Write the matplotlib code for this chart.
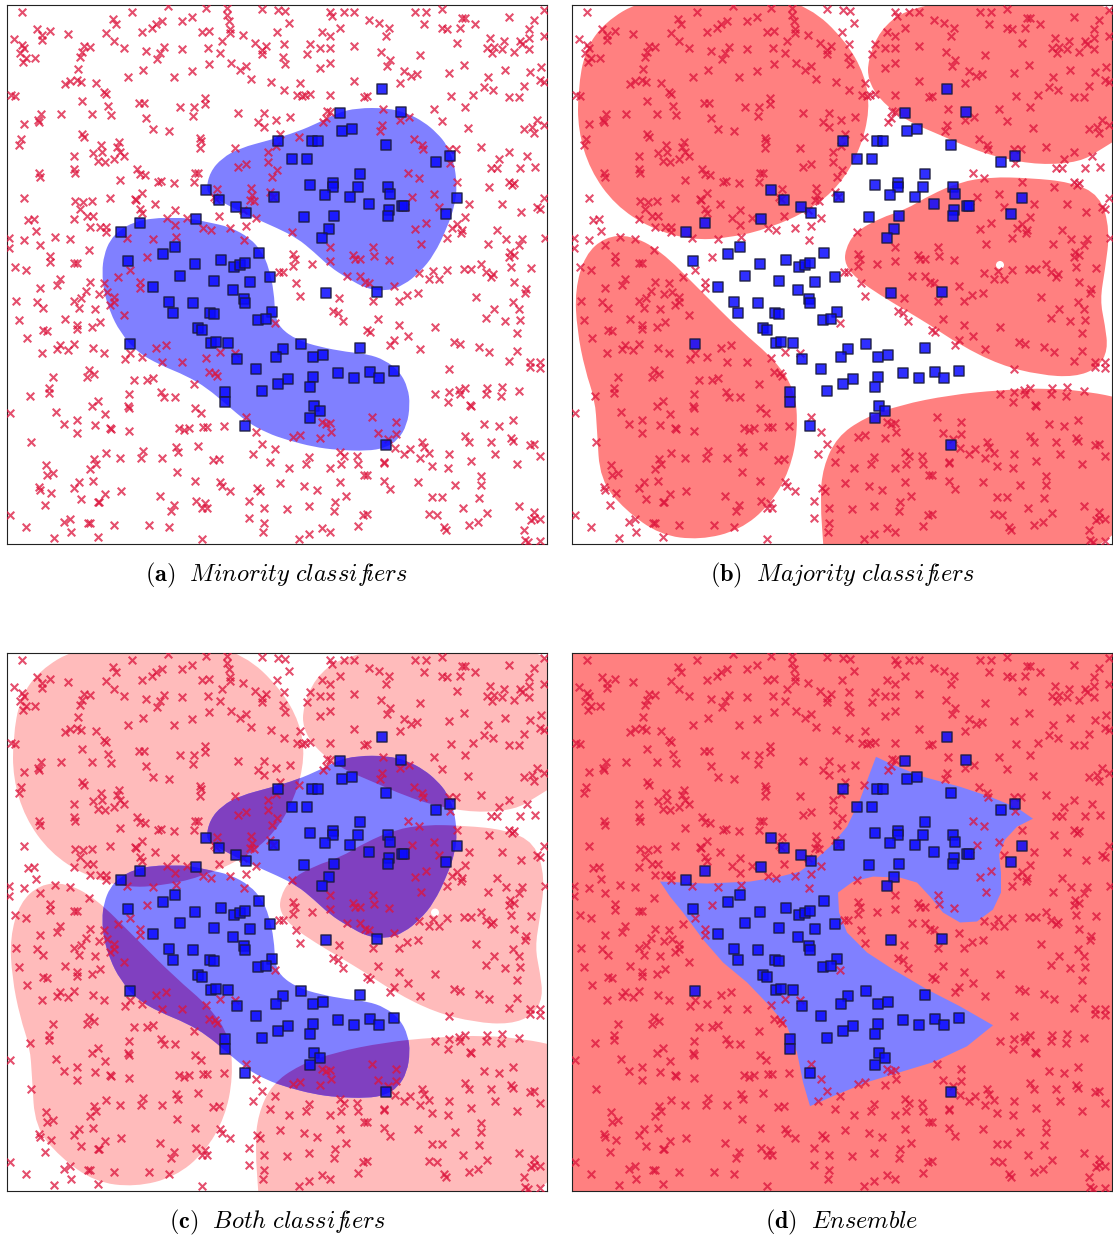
import numpy as np
import matplotlib
matplotlib.use("Agg")
import matplotlib.pyplot as plt
from matplotlib.path import Path
from matplotlib.patches import PathPatch, Polygon, Circle

plt.rcParams['mathtext.fontset'] = 'cm'

# ---------------------------------------------------------------- data
# feature coordinates of the two classes (x1 to the right, x2 downward)
minority_pts = [
    (375,84),(333,108),(394,107),(335,126),(345,124),(271,136),(305,136),(311,136),(379,140),(285,154),
    (300,154),(443,151),(429,157),(353,169),(303,180),(326,178),(326,182),(351,182),(381,182),(383,189),
    (318,190),(343,192),(362,199),(395,201),(397,201),(382,205),(381,211),(450,193),(439,209),(327,211),
    (297,212),(322,224),(315,233),(199,185),(212,195),(229,202),(239,208),(189,214),(133,218),(114,227),
    (168,242),(156,249),(252,248),(214,255),(188,259),(121,256),(227,262),(233,260),(238,258),(263,272),
    (173,271),(146,282),(207,276),(243,277),(226,285),(237,294),(238,298),(319,288),(370,287),(162,297),
    (186,298),(166,308),(203,308),(207,309),(265,307),(251,315),(259,314),(191,323),(195,325),(123,339),
    (204,338),(209,337),(221,338),(294,339),(276,344),(269,352),(306,352),(316,350),(353,343),(230,354),
    (249,364),(331,368),(363,367),(372,373),(387,366),(347,373),(306,372),(281,374),(271,379),(303,382),
    (255,386),(218,387),(218,397),(307,401),(313,406),(303,413),(238,421),(379,440),(267,192),
]

majority_pts = [
    # upper left
    (15,7),(125,7),(161,1),(106,14),(109,19),(175,16),(30,24),(35,30),(35,35),(43,26),(61,29),(99,28),
    (107,36),(135,27),(145,23),(149,19),(155,16),(7,34),(15,40),(17,43),(13,48),(19,53),(16,57),(28,53),
    (77,41),(83,42),(75,47),(73,52),(117,43),(139,46),(157,42),(153,48),(150,54),(175,44),(71,64),(136,65),
    (121,72),(167,72),(58,79),(63,76),(70,75),(74,77),(89,78),(97,87),(99,89),(4,90),(8,91),(75,96),
    (101,101),(132,98),(137,98),(173,102),(34,109),(31,115),(32,117),(54,109),(85,109),(104,110),(139,113),
    (17,119),(146,124),(162,126),(75,129),(77,132),(14,134),(12,140),(112,137),(110,142),(113,147),(94,140),
    (95,147),(86,148),(91,156),(98,157),(107,154),(117,151),(67,151),(67,164),(68,168),(32,168),(33,172),
    (130,164),(133,169),(138,170),(113,175),(151,177),(154,176),(167,178),
    # upper middle
    (199,3),(220,3),(220,10),(222,16),(223,24),(223,28),(185,12),(195,27),(202,26),(255,4),(271,5),(278,6),
    (282,18),(270,27),(236,30),(215,36),(201,43),(213,48),(248,38),(255,45),(259,41),(255,49),(277,39),
    (276,52),(278,59),(202,59),(185,66),(224,58),(233,65),(239,61),(244,74),(264,77),(277,85),(293,78),
    (290,90),(295,91),(298,90),(303,89),(323,7),(325,11),(337,7),(347,7),(333,23),(315,27),(323,31),
    (303,39),(313,43),(323,43),(300,49),(323,58),(313,63),(347,41),(347,76),(323,90),(357,92),(198,93),
    (198,99),(187,102),(186,111),(231,108),(257,108),(251,117),(257,122),(269,115),(283,112),(320,106),
    (323,107),(316,117),(319,113),(193,133),(194,136),(193,143),(228,143),(273,129),(292,132),(261,147),
    (269,141),(261,157),(231,162),(239,159),(270,165),(265,172),(188,168),(191,168),(187,177),
    # upper right
    (408,7),(419,7),(435,4),(362,15),(372,18),(382,23),(379,31),(417,19),(435,23),(440,24),(455,13),
    (458,13),(453,23),(468,19),(502,12),(527,15),(537,5),(537,31),(522,24),(522,33),(483,33),(480,43),
    (485,48),(487,42),(497,36),(495,44),(513,36),(515,39),(507,47),(522,44),(450,38),(374,47),(383,55),
    (380,61),(413,50),(457,60),(534,62),(397,66),(404,71),(410,69),(393,78),(442,68),(481,72),(498,65),
    (523,67),(533,75),(537,77),(477,82),(486,85),(517,81),(360,91),(444,91),(466,90),(502,92),(512,92),
    (458,102),(427,104),(435,116),(376,104),(393,115),(402,112),(375,120),(373,126),(530,115),(537,120),
    (517,124),(525,122),(527,128),(461,123),(407,134),(415,140),(416,144),(442,144),(449,144),(474,142),
    (502,147),(492,154),(484,163),(490,163),(520,151),(528,162),(513,163),(401,168),(412,173),(443,158),
    (450,177),(502,177),(507,178),
    # middle left
    (17,193),(68,196),(76,197),(85,196),(73,204),(80,211),(86,211),(67,214),(103,193),(128,194),(129,195),
    (135,188),(133,204),(135,208),(148,199),(168,205),(160,213),(168,220),(21,215),(27,214),(29,226),
    (83,222),(93,222),(99,222),(99,227),(48,232),(2,233),(2,243),(17,235),(63,234),(33,240),(82,245),
    (120,233),(146,234),(169,232),(43,251),(43,257),(67,258),(70,258),(8,262),(19,265),(140,252),(123,265),
    (53,274),(50,280),(83,277),(33,283),(97,278),(111,272),(100,287),(107,292),(107,297),(103,300),
    (133,277),(133,283),(79,286),(74,293),(67,296),(92,289),(9,296),(30,297),(36,303),(72,303),(88,304),
    (117,310),(12,315),(58,314),(93,317),(85,322),(70,320),(70,324),(36,325),(40,326),(20,333),(53,340),
    (50,344),(61,345),(67,339),(86,343),(35,348),(97,348),(118,354),(123,348),(135,352),(149,343),
    (159,340),(155,357),(175,357),
    # centre
    (210,184),(207,192),(209,194),(244,183),(245,190),(247,196),(243,195),(263,187),(266,192),(236,205),
    (249,213),(239,221),(223,223),(212,211),(196,223),(204,225),(180,213),(237,235),(285,227),(323,242),
    (323,256),(286,249),(288,254),(286,261),(305,259),(272,267),(276,267),(346,250),(348,254),(353,254),
    (340,271),(353,271),(358,277),(289,278),(293,291),(332,293),(326,306),(331,308),(336,316),(268,318),
    (360,325),(213,347),(228,348),(199,353),
    # middle right
    (405,192),(398,202),(427,189),(432,202),(462,199),(482,182),(495,199),(505,180),(514,207),(530,202),
    (533,204),(537,193),(458,212),(450,219),(445,223),(455,225),(454,228),(440,233),(419,218),(408,224),
    (414,239),(366,242),(367,251),(382,255),(490,225),(481,239),(499,234),(515,234),(512,240),(503,247),
    (502,252),(507,250),(504,262),(538,233),(412,268),(426,266),(422,274),(432,274),(440,265),(457,264),
    (464,264),(474,259),(479,267),(486,269),(484,272),(524,263),(507,277),(362,278),(387,281),(411,288),
    (400,290),(392,296),(366,296),(469,292),(519,284),(518,288),(506,297),(512,304),(487,304),(479,313),
    (498,316),(513,315),(371,314),(392,320),(401,331),(363,327),(428,322),(510,328),(387,335),(383,340),
    (413,344),(447,337),(453,339),(472,342),(482,347),(510,346),(502,356),(523,357),(533,357),
    # lower left
    (82,365),(80,372),(87,369),(46,372),(23,391),(42,383),(42,388),(127,375),(140,375),(146,373),(154,387),
    (157,392),(168,392),(122,389),(85,401),(91,396),(98,409),(121,401),(122,403),(49,407),(3,408),(70,415),
    (57,419),(70,428),(88,420),(103,423),(104,424),(122,426),(172,423),(177,425),(24,437),(169,442),
    (171,447),(99,448),(113,453),(136,446),(134,453),(155,453),(87,454),(89,459),(83,464),(39,460),(40,470),
    (46,468),(170,467),(86,476),(72,477),(67,483),(32,482),(33,485),(44,488),(114,486),(98,489),(92,497),
    (91,497),(74,494),(38,500),(153,491),(167,500),(164,506),(3,510),(57,517),(63,514),(81,518),(83,518),
    (107,520),(142,520),(162,522),(19,522),(64,527),(47,533),(91,532),
    # lower middle
    (202,367),(208,368),(210,371),(187,379),(188,403),(194,408),(182,423),(196,422),(200,422),(217,421),
    (239,412),(249,427),(286,432),(293,430),(313,433),(315,417),(319,419),(323,418),(324,427),(191,441),
    (255,439),(268,444),(246,449),(263,457),(206,455),(212,454),(302,452),(299,459),(282,463),(333,447),
    (337,451),(334,459),(350,451),(351,459),(323,463),(357,470),(188,476),(213,477),(215,481),(223,486),
    (250,483),(253,486),(273,478),(297,481),(310,485),(333,477),(339,491),(189,496),(195,503),(198,498),
    (200,503),(242,496),(257,503),(280,504),(302,501),(328,497),(327,506),(356,510),(242,513),(257,518),
    (256,527),(351,521),(315,523),(323,527),(302,529),(292,534),(195,534),
    # lower right
    (442,364),(523,362),(533,363),(428,389),(442,387),(441,397),(452,385),(453,389),(458,383),(463,400),
    (464,401),(480,383),(479,389),(495,382),(494,391),(512,386),(365,412),(389,417),(371,428),(389,429),
    (381,434),(477,419),(492,421),(506,415),(458,431),(462,437),(484,437),(504,433),(506,436),(523,440),
    (527,439),(533,451),(388,443),(397,449),(403,444),(415,437),(417,442),(413,453),(422,448),(425,461),
    (377,457),(377,458),(442,449),(441,463),(464,456),(488,449),(510,459),(474,471),(474,480),(360,470),
    (377,476),(383,484),(411,477),(448,480),(472,493),(425,492),(435,492),(456,503),(480,508),(422,509),
    (430,510),(360,509),(512,501),(527,507),(524,515),(533,514),(527,513),(437,522),(439,525),(462,520),
    (471,517),(517,525),(518,535),(521,537),(533,536),
]

# decision regions of the minority-class classifiers
minority_regions = [
    [(199,185),(203,167),(215,153),(233,143),(263,135),(290,127),(313,117),(330,108),(350,103),(380,103),
     (400,108),(417,117),(430,128),(440,140),(447,157),(450,180),(448,200),(440,223),(427,250),(413,267),
     (397,280),(380,286),(360,284),(340,273),(323,262),(307,247),(290,233),(270,223),(247,213),(220,200),
     (205,191)],
    [(95,267),(97,250),(103,235),(113,225),(127,217),(147,213),(167,213),(180,213),(200,217),(223,222),
     (243,233),(255,247),(262,263),(267,287),(268,310),(273,323),(290,335),(313,342),(340,347),(360,349),
     (378,355),(393,367),(401,383),(403,400),(400,420),(391,435),(378,443),(360,446),(330,445),(307,442),
     (280,435),(260,428),(240,417),(220,400),(200,383),(180,371),(153,360),(130,347),(113,327),(103,307),
     (97,287)],
]

# decision regions of the majority-class classifiers
majority_regions = [
    [(6,85),(13,45),(33,17),(68,-4),(128,-14),(188,-12),(238,2),(273,35),(293,70),(298,105),(288,145),
     (268,180),(238,205),(198,223),(158,233),(118,235),(78,223),(43,200),(18,165),(6,125)],
    [(296,55),(308,25),(333,5),(378,-4),(428,-8),(488,-6),(540,0),(560,35),(560,125),(528,145),(508,157),
     (468,160),(428,153),(398,143),(368,130),(333,115),(308,95),(296,75)],
    [(273,245),(283,227),(308,213),(333,205),(358,190),(388,177),(418,172),(458,173),(498,177),(528,190),
     (538,225),(533,265),(528,295),(533,320),(536,345),(526,363),(503,372),(468,370),(428,360),(388,340),
     (358,320),(333,305),(308,290),(286,275),(273,260)],
    [(3,285),(13,250),(33,232),(58,230),(88,245),(128,285),(168,325),(203,355),(223,385),(226,425),
     (218,465),(198,500),(168,525),(128,535),(88,530),(53,505),(28,475),(25,425),(23,395),(13,365),(5,325)],
    [(252,548),(248,495),(251,462),(265,432),(292,413),(328,400),(378,390),(428,385),(478,383),(518,387),
     (548,393),(562,400),(562,562),(252,562)],
]
majority_hole = (428, 260, 4)

# minority region of the combined ensemble
ensemble_region = [
    (88,229),(135,231),(178,229),(208,224),(228,219),(241,209),(258,194),(275,174),(288,147),(298,120),
    (304,104),(321,112),(351,124),(388,134),(418,144),(445,155),(461,166),(445,174),(433,187),(427,202),
    (429,220),(429,240),(421,257),(405,269),(388,270),(371,260),(358,244),(345,230),(328,225),(301,224),
    (281,229),(266,240),(267,260),(275,280),(295,300),(321,317),(355,337),(388,354),(421,373),(395,394),
    (361,410),(328,420),(295,430),(261,444),(238,454),(231,430),(225,400),(215,374),(198,354),(175,330),
    (151,310),(131,287),(111,260),(98,244),
]

captions = ["(a)", "(b)", "(c)", "(d)"]
titles = [r"Minority\ classif\!iers", r"Majority\ classif\!iers",
          r"Both\ classif\!iers", r"Ensemble"]

# ---------------------------------------------------------------- style
BLUE_FILL = "#8080ff"
RED_FILL = "#ff8080"
RED_LIGHT = "#ffbbbb"
PURPLE = "#8040c0"
CROSS = "#dc143c"


def smooth_path(verts):
    """Closed quadratic-Bezier outline through the midpoints of the given control polygon."""
    v = np.asarray(verts, float)
    mids = (v + np.roll(v, -1, axis=0)) / 2.0
    pts = [mids[-1]]
    codes = [Path.MOVETO]
    for i in range(len(v)):
        pts += [v[i], mids[i]]
        codes += [Path.CURVE3, Path.CURVE3]
    pts.append(mids[-1])
    codes.append(Path.CLOSEPOLY)
    return Path(pts, codes)


def add_region(ax, verts, color, z=1):
    p = PathPatch(smooth_path(verts), facecolor=color, edgecolor="none",
                  transform=ax.transData, zorder=z)
    ax.add_patch(p)
    return p


def add_points(ax):
    mx, my = zip(*majority_pts)
    ax.scatter(mx, my, marker="x", s=30, linewidths=1.5, color=CROSS, alpha=0.75, zorder=3)
    bx, by = zip(*minority_pts)
    ax.scatter(bx, by, marker="s", s=42, facecolor="#0a0aff", edgecolor="#1a1a3a",
               linewidths=1.1, alpha=0.85, zorder=4)


W, H = 1113, 1238
fig = plt.figure(figsize=(W / 100, H / 100), dpi=100)

boxes = [(7, 5, 540, 539), (572, 5, 540, 539), (7, 653, 540, 538), (572, 653, 540, 538)]
axes = []
for (x0, y0, w, h) in boxes:
    ax = fig.add_axes([x0 / W, 1 - (y0 + h) / H, w / W, h / H])
    ax.set_xlim(0, 540)
    ax.set_ylim(539, 0)
    ax.set_xticks([])
    ax.set_yticks([])
    for s in ax.spines.values():
        s.set_linewidth(0.8)
        s.set_color("#222222")
    axes.append(ax)

ax_a, ax_b, ax_c, ax_d = axes

# (a) minority classifiers
for r in minority_regions:
    add_region(ax_a, r, BLUE_FILL)

# (b) majority classifiers
for r in majority_regions:
    add_region(ax_b, r, RED_FILL)
ax_b.add_patch(Circle(majority_hole[:2], majority_hole[2], facecolor="white",
                      edgecolor="none", zorder=1.5))

# (c) both sets of classifiers, overlap shaded darker
for r in majority_regions:
    add_region(ax_c, r, RED_LIGHT)
ax_c.add_patch(Circle(majority_hole[:2], majority_hole[2], facecolor="white",
                      edgecolor="none", zorder=1.2))
for r in minority_regions:
    bp = add_region(ax_c, r, BLUE_FILL, z=1.4)
    for m in majority_regions:
        op = add_region(ax_c, m, PURPLE, z=1.6)
        op.set_clip_path(bp)

# (d) ensemble decision
ax_d.set_facecolor(RED_FILL)
ax_d.add_patch(Polygon(ensemble_region, closed=True, facecolor=BLUE_FILL,
                       edgecolor="none", zorder=1))

for ax in axes:
    add_points(ax)

centers = [(7 + 270) / W, (572 + 270) / W]
for i, (lab, title) in enumerate(zip(captions, titles)):
    cx = centers[i % 2]
    cy = 1 - (575 if i < 2 else 1222) / H
    txt = r"$\mathbf{" + lab + r"}\ \ \mathit{" + title + r"}$"
    fig.text(cx, cy, txt, ha="center", va="center", fontsize=17.5)

fig.savefig("out.png", dpi=100)
